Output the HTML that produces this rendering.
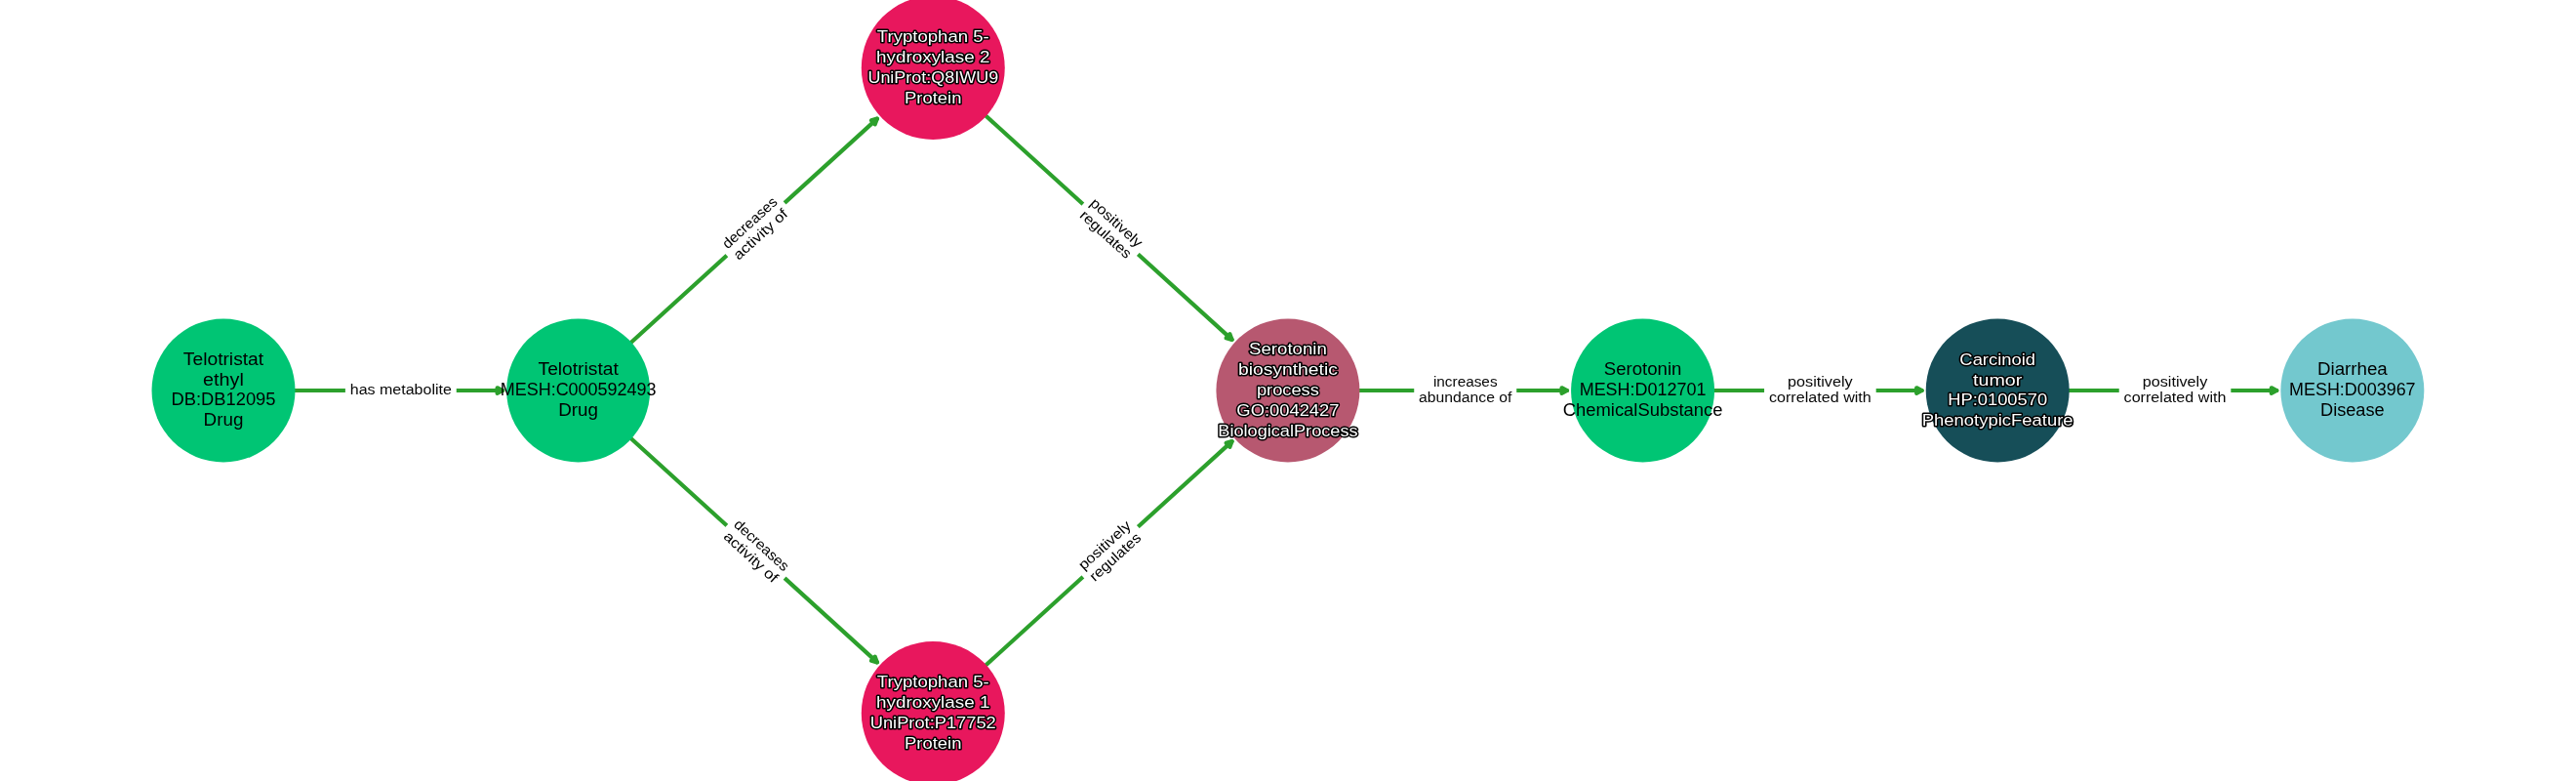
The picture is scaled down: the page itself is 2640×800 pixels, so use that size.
<!DOCTYPE html>
<html lang="en">
<head>
<meta charset="utf-8">
<title>Telotristat ethyl to Diarrhea - knowledge graph path</title>
<style>
html,body{margin:0;padding:0;background:#ffffff;}
body{width:2640px;height:800px;overflow:hidden;font-family:"Liberation Sans",sans-serif;}
svg{display:block;will-change:transform;}
text{font-family:"Liberation Sans",sans-serif;white-space:pre;}
.nl{font-size:17.50px;fill:#000000;}
.nw{font-size:17.40px;fill:#ffffff;stroke:#000000;stroke-width:3.00px;stroke-linejoin:round;stroke-linecap:round;paint-order:stroke fill;}
.el{font-size:14.70px;fill:#000000;}
.eh{font-size:14.70px;fill:#080808;}
.edge path{stroke:#2ca02c;stroke-width:4.17px;stroke-linecap:round;stroke-linejoin:round;}
.edge .ln{fill:none;}
.edge .hd{fill:#2ca02c;}
.lb{fill:#ffffff;stroke:#ffffff;stroke-width:1.39px;stroke-linejoin:miter;}
</style>
</head>
<body>
<svg width="2640" height="800" viewBox="0 0 2640 800">
<rect x="0" y="0" width="2640" height="800" fill="#ffffff"/>

<g class="edge">
<path class="ln" d="M301.84 400.00 Q410.82 400.00 515.15 400.00"/>
<path class="hd" d="M509.60 397.22 L515.15 400.00 L509.60 402.78 Z"/>
<path class="ln" d="M646.54 351.01 Q774.46 234.75 898.93 121.62"/>
<path class="hd" d="M892.95 123.30 L898.93 121.62 L896.69 127.41 Z"/>
<path class="ln" d="M646.54 448.99 Q774.46 565.25 898.93 678.38"/>
<path class="hd" d="M896.69 672.59 L898.93 678.38 L892.95 676.70 Z"/>
<path class="ln" d="M1010.18 118.49 Q1138.10 234.75 1262.57 347.88"/>
<path class="hd" d="M1260.33 342.09 L1262.57 347.88 L1256.59 346.20 Z"/>
<path class="ln" d="M1010.18 681.51 Q1138.10 565.25 1262.57 452.12"/>
<path class="hd" d="M1256.59 453.80 L1262.57 452.12 L1260.33 457.91 Z"/>
<path class="ln" d="M1392.76 400.00 Q1501.74 400.00 1606.07 400.00"/>
<path class="hd" d="M1600.52 397.22 L1606.07 400.00 L1600.52 402.78 Z"/>
<path class="ln" d="M1756.40 400.00 Q1865.38 400.00 1969.71 400.00"/>
<path class="hd" d="M1964.16 397.22 L1969.71 400.00 L1964.16 402.78 Z"/>
<path class="ln" d="M2120.04 400.00 Q2229.02 400.00 2333.35 400.00"/>
<path class="hd" d="M2327.80 397.22 L2333.35 400.00 L2327.80 402.78 Z"/>
</g>
<g class="nodes">
<circle cx="229.00" cy="400.00" r="73.50" fill="#00c574"/>
<circle cx="592.64" cy="400.00" r="73.50" fill="#00c574"/>
<circle cx="956.28" cy="69.50" r="73.50" fill="#e8175d"/>
<circle cx="956.28" cy="730.50" r="73.50" fill="#e8175d"/>
<circle cx="1319.92" cy="400.00" r="73.50" fill="#b75870"/>
<circle cx="1683.56" cy="400.00" r="73.50" fill="#00c574"/>
<circle cx="2047.20" cy="400.00" r="73.50" fill="#164e58"/>
<circle cx="2410.84" cy="400.00" r="73.50" fill="#73c8ce"/>
</g>
<g class="edge-labels">
<path class="lb" d="M358.76 411.17 L462.88 411.17 Q467.05 411.17 467.05 407.00 L467.05 393.00 Q467.05 388.83 462.88 388.83 L358.76 388.83 Q354.59 388.83 354.59 393.00 L354.59 407.00 Q354.59 411.17 358.76 411.17 Z"/>
<text class="el eh" x="358.76" y="404.00" textLength="104.12" lengthAdjust="spacingAndGlyphs">has metabolite</text>
<path class="lb" d="M761.38 272.67 L813.46 225.34 Q816.54 222.54 813.74 219.45 L793.43 197.10 Q790.63 194.02 787.54 196.82 L735.46 244.16 Q732.38 246.96 735.18 250.04 L755.50 272.39 Q758.30 275.47 761.38 272.67 Z"/>
<text class="el" x="745.66" y="255.38" textLength="70.38" lengthAdjust="spacingAndGlyphs" transform="rotate(-42.267 745.66 255.38)">decreases</text>
<text class="el" x="756.93" y="267.03" textLength="69.38" lengthAdjust="spacingAndGlyphs" transform="rotate(-42.267 756.93 267.03)">activity of</text>
<path class="lb" d="M735.46 555.84 L787.54 603.18 Q790.63 605.98 793.43 602.90 L813.74 580.55 Q816.54 577.46 813.46 574.66 L761.38 527.33 Q758.30 524.53 755.50 527.61 L735.18 549.96 Q732.38 553.04 735.46 555.84 Z"/>
<text class="el" x="751.18" y="538.55" textLength="70.38" lengthAdjust="spacingAndGlyphs" transform="rotate(-317.733 751.18 538.55)">decreases</text>
<text class="el" x="740.65" y="550.88" textLength="69.38" lengthAdjust="spacingAndGlyphs" transform="rotate(-317.733 740.65 550.88)">activity of</text>
<path class="lb" d="M1100.49 226.60 L1149.80 271.41 Q1152.88 274.22 1155.68 271.13 L1175.99 248.79 Q1178.80 245.70 1175.71 242.90 L1126.41 198.09 Q1123.32 195.29 1120.52 198.37 L1100.21 220.72 Q1097.41 223.80 1100.49 226.60 Z"/>
<text class="el" x="1116.21" y="209.31" textLength="66.62" lengthAdjust="spacingAndGlyphs" transform="rotate(-317.733 1116.21 209.31)">positively</text>
<text class="el" x="1105.82" y="221.76" textLength="65.25" lengthAdjust="spacingAndGlyphs" transform="rotate(-317.733 1105.82 221.76)">regulates</text>
<path class="lb" d="M1126.41 601.91 L1175.71 557.10 Q1178.80 554.30 1175.99 551.21 L1155.68 528.87 Q1152.88 525.78 1149.80 528.59 L1100.49 573.40 Q1097.41 576.20 1100.21 579.28 L1120.52 601.63 Q1123.32 604.71 1126.41 601.91 Z"/>
<text class="el" x="1110.69" y="584.62" textLength="66.62" lengthAdjust="spacingAndGlyphs" transform="rotate(-42.267 1110.69 584.62)">positively</text>
<text class="el" x="1122.10" y="596.15" textLength="65.25" lengthAdjust="spacingAndGlyphs" transform="rotate(-42.267 1122.10 596.15)">regulates</text>
<path class="lb" d="M1454.12 419.27 L1549.37 419.27 Q1553.53 419.27 1553.53 415.10 L1553.53 384.90 Q1553.53 380.73 1549.37 380.73 L1454.12 380.73 Q1449.95 380.73 1449.95 384.90 L1449.95 415.10 Q1449.95 419.27 1454.12 419.27 Z"/>
<text class="el eh" x="1468.93" y="395.90" textLength="65.62" lengthAdjust="spacingAndGlyphs">increases</text>
<text class="el eh" x="1454.12" y="412.10" textLength="95.25" lengthAdjust="spacingAndGlyphs">abundance of</text>
<path class="lb" d="M1812.94 419.27 L1917.82 419.27 Q1921.98 419.27 1921.98 415.10 L1921.98 384.90 Q1921.98 380.73 1917.82 380.73 L1812.94 380.73 Q1808.78 380.73 1808.78 384.90 L1808.78 415.10 Q1808.78 419.27 1812.94 419.27 Z"/>
<text class="el eh" x="1832.07" y="395.90" textLength="66.62" lengthAdjust="spacingAndGlyphs">positively</text>
<text class="el eh" x="1812.94" y="412.10" textLength="104.88" lengthAdjust="spacingAndGlyphs">correlated with</text>
<path class="lb" d="M2176.58 419.27 L2281.46 419.27 Q2285.62 419.27 2285.62 415.10 L2285.62 384.90 Q2285.62 380.73 2281.46 380.73 L2176.58 380.73 Q2172.42 380.73 2172.42 384.90 L2172.42 415.10 Q2172.42 419.27 2176.58 419.27 Z"/>
<text class="el eh" x="2195.71" y="395.90" textLength="66.62" lengthAdjust="spacingAndGlyphs">positively</text>
<text class="el eh" x="2176.58" y="412.10" textLength="104.88" lengthAdjust="spacingAndGlyphs">correlated with</text>
</g>
<g class="node-labels">
<text class="nl" x="187.88" y="373.80" textLength="82.25" lengthAdjust="spacingAndGlyphs">Telotristat</text>
<text class="nl" x="208.12" y="394.60" textLength="41.75" lengthAdjust="spacingAndGlyphs">ethyl</text>
<text class="nl" x="175.50" y="415.40" textLength="107.00" lengthAdjust="spacingAndGlyphs">DB:DB12095</text>
<text class="nl" x="208.62" y="436.20" textLength="40.75" lengthAdjust="spacingAndGlyphs">Drug</text>
<text class="nl" x="551.52" y="384.20" textLength="82.25" lengthAdjust="spacingAndGlyphs">Telotristat</text>
<text class="nl" x="512.77" y="405.00" textLength="159.75" lengthAdjust="spacingAndGlyphs">MESH:C000592493</text>
<text class="nl" x="572.27" y="425.80" textLength="40.75" lengthAdjust="spacingAndGlyphs">Drug</text>
<text class="nw" x="898.84" y="43.30" textLength="114.88" lengthAdjust="spacingAndGlyphs">Tryptophan 5-</text>
<text class="nw" x="898.09" y="64.10" textLength="116.38" lengthAdjust="spacingAndGlyphs">hydroxylase 2</text>
<text class="nw" x="889.41" y="84.90" textLength="133.75" lengthAdjust="spacingAndGlyphs">UniProt:Q8IWU9</text>
<text class="nw" x="927.09" y="105.70" textLength="58.38" lengthAdjust="spacingAndGlyphs">Protein</text>
<text class="nw" x="898.84" y="704.30" textLength="114.88" lengthAdjust="spacingAndGlyphs">Tryptophan 5-</text>
<text class="nw" x="898.09" y="725.10" textLength="116.38" lengthAdjust="spacingAndGlyphs">hydroxylase 1</text>
<text class="nw" x="891.78" y="745.90" textLength="129.00" lengthAdjust="spacingAndGlyphs">UniProt:P17752</text>
<text class="nw" x="927.09" y="766.70" textLength="58.38" lengthAdjust="spacingAndGlyphs">Protein</text>
<text class="nw" x="1280.11" y="363.40" textLength="79.62" lengthAdjust="spacingAndGlyphs">Serotonin</text>
<text class="nw" x="1268.98" y="384.20" textLength="101.88" lengthAdjust="spacingAndGlyphs">biosynthetic</text>
<text class="nw" x="1287.92" y="405.00" textLength="64.00" lengthAdjust="spacingAndGlyphs">process</text>
<text class="nw" x="1267.36" y="425.80" textLength="105.12" lengthAdjust="spacingAndGlyphs">GO:0042427</text>
<text class="nw" x="1248.30" y="446.60" textLength="143.25" lengthAdjust="spacingAndGlyphs">BiologicalProcess</text>
<text class="nl" x="1643.75" y="384.20" textLength="79.62" lengthAdjust="spacingAndGlyphs">Serotonin</text>
<text class="nl" x="1618.68" y="405.00" textLength="129.75" lengthAdjust="spacingAndGlyphs">MESH:D012701</text>
<text class="nl" x="1601.68" y="425.80" textLength="163.75" lengthAdjust="spacingAndGlyphs">ChemicalSubstance</text>
<text class="nw" x="2008.39" y="373.80" textLength="77.62" lengthAdjust="spacingAndGlyphs">Carcinoid</text>
<text class="nw" x="2022.08" y="394.60" textLength="50.25" lengthAdjust="spacingAndGlyphs">tumor</text>
<text class="nw" x="1996.20" y="415.40" textLength="102.00" lengthAdjust="spacingAndGlyphs">HP:0100570</text>
<text class="nw" x="1969.76" y="436.20" textLength="154.88" lengthAdjust="spacingAndGlyphs">PhenotypicFeature</text>
<text class="nl" x="2374.97" y="384.20" textLength="71.75" lengthAdjust="spacingAndGlyphs">Diarrhea</text>
<text class="nl" x="2346.09" y="405.00" textLength="129.50" lengthAdjust="spacingAndGlyphs">MESH:D003967</text>
<text class="nl" x="2378.03" y="425.80" textLength="65.62" lengthAdjust="spacingAndGlyphs">Disease</text>
</g>
</svg>
</body>
</html>
